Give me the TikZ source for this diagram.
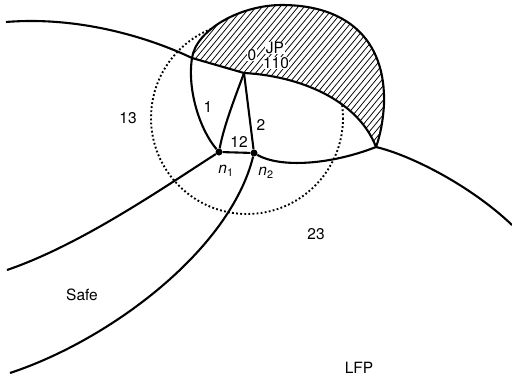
\documentclass[tikz,border=0pt]{standalone}
\usepackage{fontspec}
\setmainfont{TeX Gyre Heros}
\begin{document}
\begin{tikzpicture}[x=1pt,y=-1pt,
  curve/.style={line width=2.1pt},
  ring/.style={line width=1.9pt,dash pattern=on 1.8pt off 2.3pt},
  hatch/.style={line width=0.75pt},
  lbl/.style={inner sep=0.5pt,font=\fontsize{15.5}{18}\selectfont},
  lblw/.style={lbl,fill=white},
  junction/.style={circle,fill=black,inner sep=0pt,minimum size=7pt}]
\useasboundingbox (0,0) rectangle (512,380);

% vertices of the phase network
\coordinate (W)  at (6,22);
\coordinate (A)  at (192,58);
\coordinate (P0) at (244,73);
\coordinate (T)  at (282,5);
\coordinate (E)  at (384,104);
\coordinate (R)  at (376,147);
\coordinate (Ee) at (512,225);
\coordinate (SW1) at (7,270);
\coordinate (SW2) at (10,373);
\node[junction] (n1) at (219,152) {};
\node[junction] (n2) at (254,153) {};

% dotted circle
\draw[ring] (247,118) circle (96);

% hatched lens
\def\lens{(A) .. controls (196,30) and (240,5) .. (T)
  .. controls (345,5) and (386,38) .. (E)
  .. controls (383,122) and (380,136) .. (R)
  .. controls (358,100) and (300,76) .. (P0) -- cycle}
\path[fill=white] \lens;
\begin{scope}
  \clip \lens;
  \foreach \i in {40,46,...,400}
    \draw[hatch] (\i,160) -- ++(140,-170);
\end{scope}
\draw[curve] (A) .. controls (196,30) and (240,5) .. (T)
  .. controls (345,5) and (386,38) .. (E)
  .. controls (383,122) and (380,136) .. (R);

% boundary curves
\draw[curve] (W) .. controls (80,16) and (150,38) .. (A) -- (P0)
  .. controls (300,76) and (358,100) .. (R);
\draw[curve] (R) .. controls (410,155) and (470,185) .. (Ee);
\draw[curve] (A) .. controls (187,90) and (200,130) .. (n1);
\draw[curve] (P0) .. controls (236,95) and (224,125) .. (n1);
\draw[curve] (P0) -- (n2);
\draw[curve] (n1) -- (n2);
\draw[curve] (n2) .. controls (280,168) and (330,165) .. (R);
\draw[curve] (n1) .. controls (160,190) and (80,245) .. (SW1);
\draw[curve] (n2) .. controls (230,250) and (110,340) .. (SW2);

% labels
\node[lblw] (l0)   at (252,55) {0};
\node[lblw] (ljp)  at (275,48) {JP};
\node[lblw] (l110) at (276,63) {110};
\node[lbl] (l1)  at (208,107) {1};
\node[lbl] (l2)  at (261,125) {2};
\node[lbl] (l12) at (239,142) {12};
\node[lbl] (l13) at (128,118) {13};
\node[lbl] (l23) at (316,234) {23};
\node[lbl] (lsafe) at (82,295) {Safe};
\node[lbl] (llfp)  at (359,368) {LFP};
\node[lbl] (ln1) at (226,171) {\textit{n}\textsubscript{\upshape 1}};
\node[lbl] (ln2) at (266,173) {\textit{n}\textsubscript{\upshape 2}};
\end{tikzpicture}
\end{document}
